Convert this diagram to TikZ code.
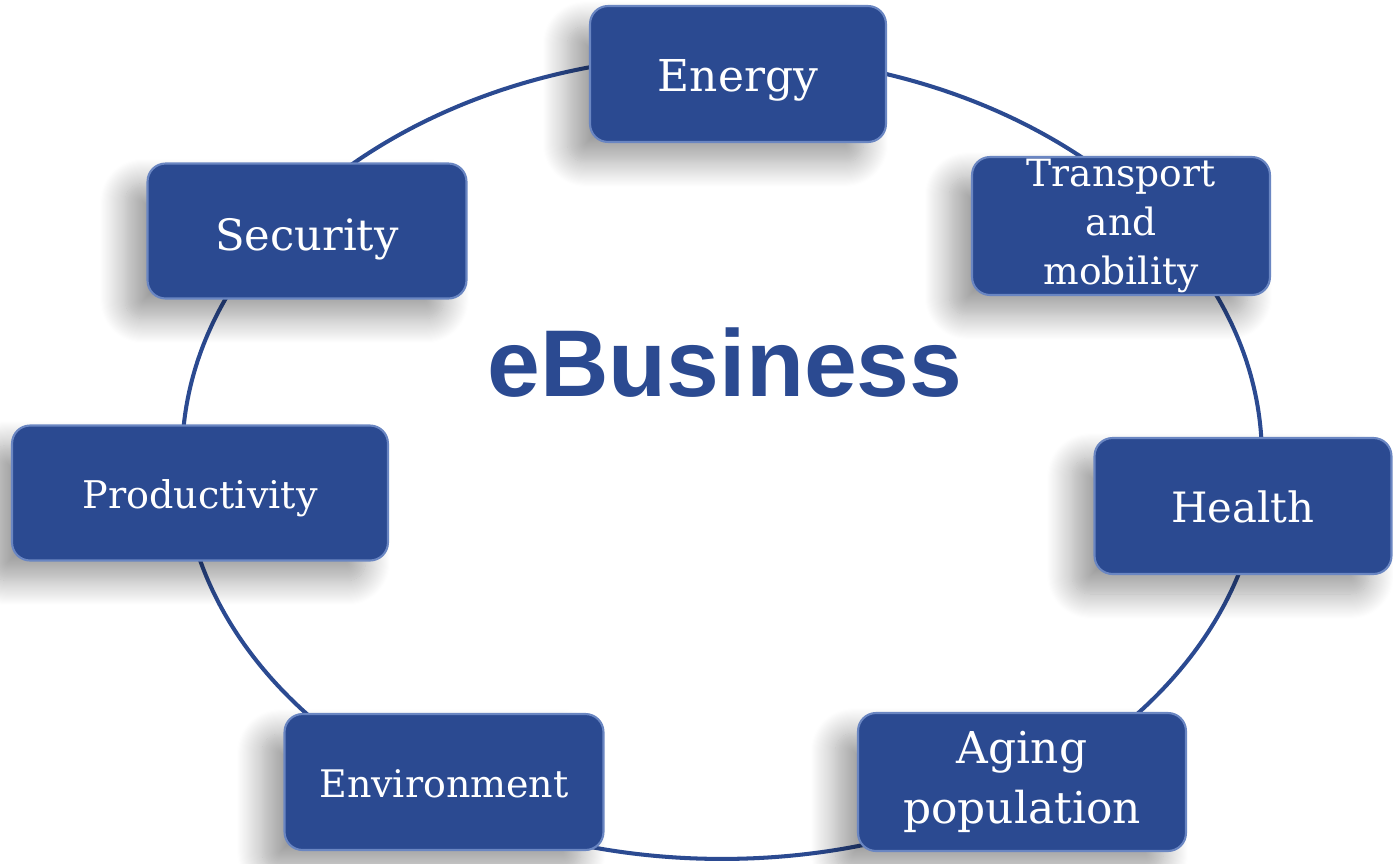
\documentclass[tikz,border=0pt]{standalone}
\usepackage{fontspec}
\setmainfont{DejaVu Serif}
\setsansfont{Liberation Sans}
\usetikzlibrary{shadows.blur}
\definecolor{bizblue}{HTML}{2B4A91}
\definecolor{bizedge}{HTML}{6A86C2}

\begin{document}
\begin{tikzpicture}[x=0.02cm, y=-0.02cm,
  topic/.style={rounded corners=0.36cm, fill=bizblue, draw=bizedge, line width=1.2pt,
    text=white, align=center, inner sep=0pt,
    blur shadow={shadow xshift=-0.45cm, shadow yshift=-0.4cm, shadow blur radius=0.5cm, shadow blur steps=24, shadow opacity=38}},
  oneline/.style={text height=#1, text depth=0pt}]
	\useasboundingbox (0,0) rectangle (1393,863);

	%ring behind the topics
	\draw[bizblue, line width=2.3pt] (722,457) ellipse [x radius=10.8cm, y radius=8.04cm];

	%title
	\node[anchor=base, text=bizblue, font=\sffamily\bfseries\fontsize{54}{60}\selectfont] (ebiz) at (725,396) {eBusiness};

	%topics round the ring
	\node[topic, oneline=20pt, minimum width=5.92cm, minimum height=2.72cm, font=\fontsize{25}{28}\selectfont] (energy) at (738,74) {Energy};
	\node[topic, minimum width=5.96cm, minimum height=2.76cm, font=\fontsize{21.4}{28}\selectfont] (transport) at (1121,226) {Transport\\and\\mobility};
	\node[topic, oneline=22pt, minimum width=6.38cm, minimum height=2.70cm, font=\fontsize{24.6}{28}\selectfont] (security) at (307,231) {Security};
	\node[topic, oneline=18pt, minimum width=7.52cm, minimum height=2.70cm, font=\fontsize{21.7}{28}\selectfont] (productivity) at (200,493) {Productivity};
	\node[topic, oneline=19pt, minimum width=5.94cm, minimum height=2.72cm, font=\fontsize{23.8}{28}\selectfont] (health) at (1243,506) {Health};
	\node[topic, oneline=18pt, minimum width=6.38cm, minimum height=2.72cm, font=\fontsize{21.6}{28}\selectfont] (environment) at (444,782) {Environment};
	\node[topic, minimum width=6.56cm, minimum height=2.76cm, font=\fontsize{25}{34}\selectfont] (aging) at (1022,782) {Aging\\population};

\end{tikzpicture}
\end{document}
